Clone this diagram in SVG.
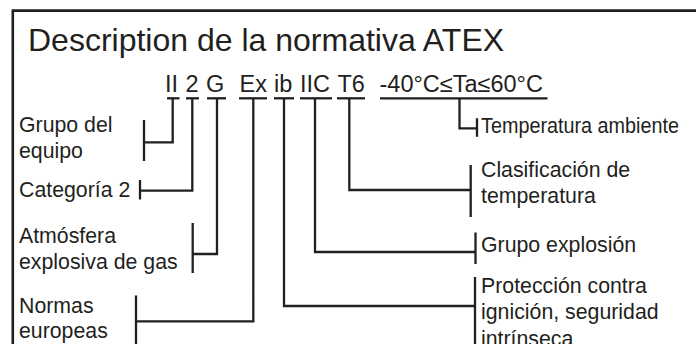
<svg xmlns="http://www.w3.org/2000/svg" width="696" height="344" viewBox="0 0 696 344">
<style>
text{font-family:"Liberation Sans",Arial,Helvetica,sans-serif;fill:#231f20}
.t{font-size:32px}
.c{font-size:23.5px}
.l{font-size:21.3px}
.ln{stroke:#231f20;stroke-width:2.3;fill:none}
.frame{stroke:#231f20;stroke-width:2.6;fill:none}
</style>
<rect width="696" height="344" fill="#fff"/>
<path class="frame" d="M12.8,344 V10.6 H696"/>
<g id="title"><text class="t" x="28" y="51">Description de la normativa ATEX</text></g>
<g id="code">
<g id="c-II"><text class="c" x="165" y="92">II</text><line class="ln" x1="167" y1="98.3" x2="179.5" y2="98.3"/></g>
<g id="c-2"><text class="c" x="185.5" y="92">2</text><line class="ln" x1="186" y1="98.3" x2="199" y2="98.3"/></g>
<g id="c-G"><text class="c" x="206" y="92">G</text><line class="ln" x1="207" y1="98.3" x2="226" y2="98.3"/></g>
<g id="c-Ex"><text class="c" x="239.5" y="92">Ex</text><line class="ln" x1="239" y1="98.3" x2="267" y2="98.3"/></g>
<g id="c-ib"><text class="c" x="274" y="92">ib</text><line class="ln" x1="274" y1="98.3" x2="294" y2="98.3"/></g>
<g id="c-IIC"><text class="c" x="300" y="92">IIC</text><line class="ln" x1="300" y1="98.3" x2="332" y2="98.3"/></g>
<g id="c-T6"><text class="c" x="337.5" y="92">T6</text><line class="ln" x1="337" y1="98.3" x2="365" y2="98.3"/></g>
<g id="c-Ta"><text class="c" x="379.5" y="92">-40°C≤Ta≤60°C</text><line class="ln" x1="380" y1="98.3" x2="547.5" y2="98.3"/></g>
</g>
<g id="connectors">
<path class="ln" d="M172.7,98 V142.3 H144 M144,120 V161"/>
<path class="ln" d="M192.3,98 V190.7 H140 M140,180 V199.5"/>
<path class="ln" d="M217,98 V254 H192.7 M192.7,223 V273"/>
<path class="ln" d="M253.3,98 V321.3 H136 M136,295.5 V344"/>
<path class="ln" d="M284,98 V306 H475 M475,277 V344"/>
<path class="ln" d="M315,98 V252 H475.5 M475.5,232.5 V264"/>
<path class="ln" d="M349.3,98 V190 H470.7 M470.7,165 V217"/>
<path class="ln" d="M459.5,98 V128.3 H477 M477,118.3 V136.7"/>
</g>
<g id="n-grupo-equipo"><text class="l" x="19" y="132">Grupo del</text><text class="l" x="19" y="157.5">equipo</text></g>
<g id="n-categoria"><text class="l" x="19" y="197.3">Categoría 2</text></g>
<g id="n-atmosfera"><text class="l" x="19" y="243.3">Atmósfera</text><text class="l" x="19" y="268.5">explosiva de gas</text></g>
<g id="n-normas"><text class="l" x="19" y="312.7">Normas</text><text class="l" x="19" y="338.3">europeas</text></g>
<g id="n-temp-amb"><text class="l" x="481" y="133.3" textLength="198" lengthAdjust="spacingAndGlyphs">Temperatura ambiente</text></g>
<g id="n-clasif"><text class="l" x="481" y="177">Clasificación de</text><text class="l" x="481" y="203">temperatura</text></g>
<g id="n-grupo-expl"><text class="l" x="481" y="252">Grupo explosión</text></g>
<g id="n-proteccion"><text class="l" x="481" y="292.7">Protección contra</text><text class="l" x="481" y="318.7">ignición, seguridad</text><text class="l" x="481" y="345.5">intrínseca</text></g>
</svg>
